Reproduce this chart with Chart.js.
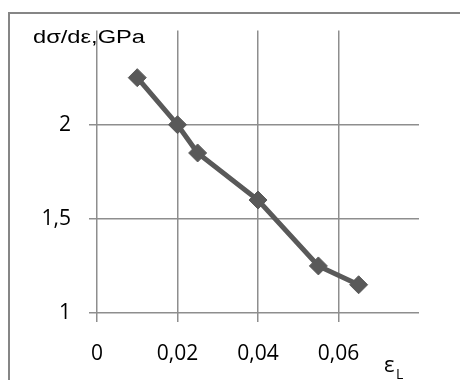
<!DOCTYPE html>
<html>
<head>
<meta charset="utf-8">
<script src="https://cdn.jsdelivr.net/npm/chart.js@4"></script>
<style>
  html, body { margin: 0; padding: 0; background: #fff; }
  #wrap { position: relative; width: 460px; height: 380px; overflow: hidden; }
  #frame { position: absolute; left: 8px; top: 12px; width: 470px; height: 390px;
           border-left: 2px solid #868686; border-top: 2px solid #868686; pointer-events: none; }
  canvas { position: absolute; left: 0; top: 0; }
</style>
</head>
<body>
<div id="wrap">
  <canvas id="c" width="460" height="380"></canvas>
  <div id="frame"></div>
</div>
<script>
// Data
const strainValues = [0.01, 0.02, 0.025, 0.04, 0.055, 0.065];
const modulusValues = [2.25, 2.0, 1.85, 1.6, 1.25, 1.15];
const xTickValues = [0, 0.02, 0.04, 0.06];
const yTickValues = [1, 1.5, 2];
const yTitle = 'dσ/dε,GPa';
const xTitle = 'ε';
const xTitleSub = 'L';

const fmt = v => String(Math.round(v * 1000) / 1000).replace('.', ',');

const textPlugin = {
  id: 'axisTexts',
  afterDraw(chart) {
    const ctx = chart.ctx;
    ctx.save();
    ctx.fillStyle = '#000';
    ctx.textBaseline = 'alphabetic';
    ctx.textAlign = 'left';
    ctx.font = '18px "Liberation Sans", Arial, sans-serif';
    const w = ctx.measureText(yTitle).width;
    ctx.save();
    ctx.translate(33, 43);
    ctx.scale(112 / w, 1);
    ctx.fillText(yTitle, 0, 0);
    ctx.restore();
    ctx.font = '22px "Open Sans", sans-serif';
    ctx.fillText(xTitle, 384, 372);
    ctx.font = '14px "Open Sans", sans-serif';
    ctx.fillText(xTitleSub, 396, 379);
    ctx.restore();
  }
};

new Chart(document.getElementById('c'), {
  type: 'line',
  data: {
    datasets: [{
      data: strainValues.map((x, i) => ({ x: x, y: modulusValues[i] })),
      borderColor: '#595959',
      backgroundColor: '#595959',
      borderWidth: 5,
      pointStyle: 'rectRot',
      pointRadius: 9,
      pointBorderWidth: 1,
      pointBorderColor: '#595959',
      pointBackgroundColor: '#595959',
      tension: 0,
      fill: false
    }]
  },
  options: {
    responsive: false,
    animation: false,
    events: [],
    layout: { padding: { left: 0, right: 41, top: 26, bottom: 0 } },
    plugins: { legend: { display: false }, tooltip: { enabled: false } },
    scales: {
      x: {
        type: 'linear',
        min: 0, max: 0.08,
        afterFit(s) { s.height = 67; },
        afterBuildTicks(s) { s.ticks = xTickValues.concat([0.08]).map(v => ({ value: v })); },
        border: { display: false },
        grid: {
          color: ctx => (ctx.tick && ctx.tick.value > 0.07) ? 'rgba(0,0,0,0)' : '#8e8e8e',
          lineWidth: 1.5,
          tickLength: 9,
          drawTicks: true
        },
        ticks: {
          padding: 19,
          color: '#000',
          font: { family: '"Open Sans", sans-serif', size: 21 },
          maxRotation: 0,
          autoSkip: false,
          callback: v => v > 0.07 ? '' : fmt(v)
        }
      },
      y: {
        type: 'linear',
        min: 1, max: 2.5,
        afterFit(s) { s.width = 97; },
        afterBuildTicks(s) { s.ticks = yTickValues.concat([2.5]).map(v => ({ value: v })); },
        border: { display: false },
        grid: {
          color: ctx => (ctx.tick && ctx.tick.value > 2.4) ? 'rgba(0,0,0,0)' : '#8e8e8e',
          lineWidth: 1.5,
          tickLength: 8,
          drawTicks: true
        },
        ticks: {
          padding: 18,
          color: '#000',
          font: { family: '"Open Sans", sans-serif', size: 21 },
          autoSkip: false,
          callback: v => v > 2.4 ? '' : fmt(v)
        }
      }
    }
  },
  plugins: [textPlugin]
});
</script>
</body>
</html>
